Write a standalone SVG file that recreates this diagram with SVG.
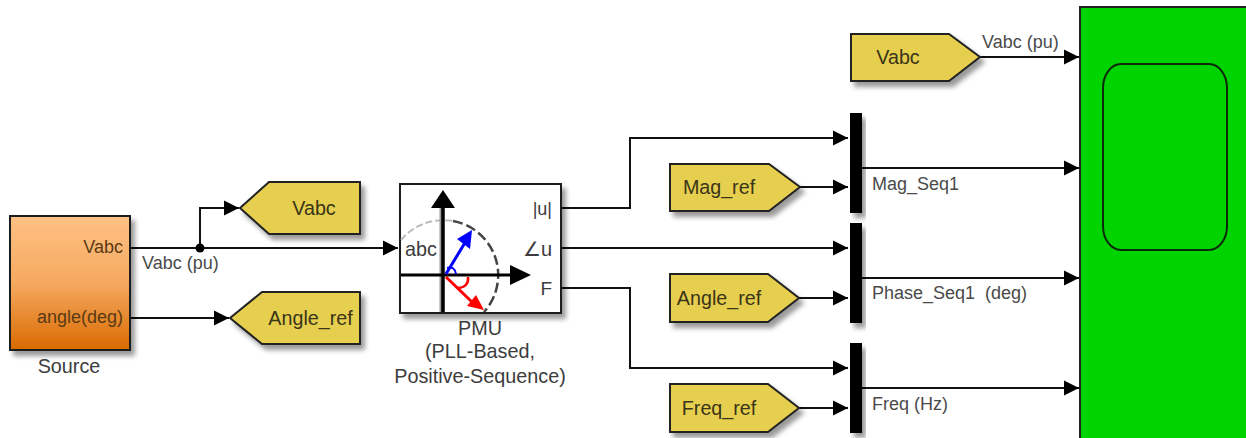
<svg xmlns="http://www.w3.org/2000/svg" width="1246" height="438" viewBox="0 0 1246 438">
<style>
text{font-family:"Liberation Sans",Arial,sans-serif;font-size:19.800px;fill:#3c3c3c}
.sm{font-size:18px;fill:#4a4a4a}
.port{font-size:18px;fill:#3a3a3a}
.oport{font-size:18px;fill:#5a3a14}
.tagt{font-size:19.700px;fill:#3a3418}
.blk{stroke:#1a1a1a;stroke-width:2}
.tag{fill:#e6cf50;stroke:#222;stroke-width:2;stroke-linejoin:miter}
.wire{fill:none;stroke:#111;stroke-width:2}
.bar{fill:#000}
.mid{text-anchor:middle}
.end{text-anchor:end}
</style>
<defs>
<linearGradient id="src" x1="0" y1="0" x2="0" y2="1">
<stop offset="0" stop-color="#ffc183"/>
<stop offset="0.5" stop-color="#f5a960"/>
<stop offset="1" stop-color="#d96a00"/>
</linearGradient>
<filter id="sh" x="-20%" y="-20%" width="150%" height="150%">
<feGaussianBlur stdDeviation="2.5" in="SourceAlpha"/>
<feOffset dx="4" dy="5"/>
<feComponentTransfer><feFuncA type="linear" slope="0.4"/></feComponentTransfer>
<feMerge><feMergeNode/><feMergeNode in="SourceGraphic"/></feMerge>
</filter>
<marker id="arr" markerUnits="userSpaceOnUse" markerWidth="16" markerHeight="16" refX="15" refY="8" orient="auto">
<path d="M0,0.5 L15,8 L0,15.5 Z" fill="#000"/>
</marker>
</defs>

<g id="connectors">
<path class="wire" d="M130,248 H398" marker-end="url(#arr)"/>
<path class="wire" d="M200,248 V208 H239" marker-end="url(#arr)"/>
<circle cx="200" cy="248" r="4.500" fill="#000"/>
<path class="wire" d="M130,318 H229" marker-end="url(#arr)"/>
<path class="wire" d="M561,208 H630 V138 H848" marker-end="url(#arr)"/>
<path class="wire" d="M561,248 H848" marker-end="url(#arr)"/>
<path class="wire" d="M561,288 H630 V368 H848" marker-end="url(#arr)"/>
<path class="wire" d="M800,187 H848" marker-end="url(#arr)"/>
<path class="wire" d="M799,298 H848" marker-end="url(#arr)"/>
<path class="wire" d="M799,408 H848" marker-end="url(#arr)"/>
<path class="wire" d="M980,57 H1079" marker-end="url(#arr)"/>
<path class="wire" d="M861,168 H1079" marker-end="url(#arr)"/>
<path class="wire" d="M861,278 H1079" marker-end="url(#arr)"/>
<path class="wire" d="M861,388 H1079" marker-end="url(#arr)"/>
<text class="sm" x="142" y="269">Vabc (pu)</text>
<text class="sm" x="982" y="48">Vabc (pu)</text>
<text class="sm" x="872" y="190">Mag_Seq1</text>
<text class="sm" x="872" y="299" xml:space="preserve" style="white-space:pre">Phase_Seq1  (deg)</text>
<text class="sm" x="872" y="410">Freq (Hz)</text>
</g>

<g id="source">
<rect class="blk" x="10" y="216" width="120" height="134" fill="url(#src)" filter="url(#sh)"/>
<text class="end oport" x="123" y="253">Vabc</text>
<text class="end oport" x="123" y="323">angle(deg)</text>
<text class="mid" x="69" y="373">Source</text>
</g>

<g id="goto-vabc">
<polygon class="tag" points="240,208 269,182 360,182 360,234 269,234" filter="url(#sh)"/>
<text class="mid tagt" x="314" y="215">Vabc</text>
</g>
<g id="goto-angle">
<polygon class="tag" points="230,318 262,292 360,292 360,344 262,344" filter="url(#sh)"/>
<text class="mid tagt" x="310.500" y="325">Angle_ref</text>
</g>

<g id="pmu">
<rect class="blk" x="400" y="184" width="161" height="129" fill="#fff" filter="url(#sh)"/>
<path d="M401,240 A55,55 0 0 1 453,221" fill="none" stroke="#bbb" stroke-width="2" stroke-dasharray="7,3"/>
<path d="M453,221 A55,55 0 0 1 484,312" fill="none" stroke="#444" stroke-width="2.500" stroke-dasharray="10,4"/>
<path d="M441,312 V206" stroke="#999" stroke-width="3"/>
<path d="M443,312 V206" stroke="#000" stroke-width="3.500"/>
<polygon points="443,190 455,208 431,208" fill="#000"/>
<path d="M401,275 H512" stroke="#000" stroke-width="3"/>
<polygon points="531,275 510,265 510,285" fill="#000"/>
<path d="M446,274 L466,241" stroke="#00f" stroke-width="3"/>
<polygon points="472,230 470,249 457,239" fill="#00f"/>
<path d="M447,268 Q455,266 456,274" fill="none" stroke="#00f" stroke-width="2"/>
<path d="M446,277 L472,302" stroke="#f00" stroke-width="3"/>
<polygon points="484,310 467,306 476,295" fill="#f00"/>
<path d="M468,277 Q469,287 458,288" fill="none" stroke="#f00" stroke-width="2.500"/>
<text x="405" y="256">abc</text>
<text class="end port" x="552" y="215">|u|</text>
<text class="end" x="552" y="256" style="font-size:20px">∠u</text>
<text class="end" x="552" y="295" style="font-size:19px">F</text>
<text class="mid" x="480" y="335">PMU</text>
<text class="mid" x="480" y="358">(PLL-Based,</text>
<text class="mid" x="480" y="383">Positive-Sequence)</text>
</g>

<g id="from-mag">
<polygon class="tag" points="670,164 769,164 800,187 769,211 670,211" filter="url(#sh)"/>
<text class="mid tagt" x="719" y="194">Mag_ref</text>
</g>
<g id="from-angle">
<polygon class="tag" points="670,274 768,274 799,298 768,322 670,322" filter="url(#sh)"/>
<text class="mid tagt" x="719" y="305">Angle_ref</text>
</g>
<g id="from-freq">
<polygon class="tag" points="670,384 768,384 799,408 768,432 670,432" filter="url(#sh)"/>
<text class="mid tagt" x="719" y="415">Freq_ref</text>
</g>
<g id="from-vabc">
<polygon class="tag" points="851,34 949,34 980,57 949,81 851,81" filter="url(#sh)"/>
<text class="mid tagt" x="898" y="64">Vabc</text>
</g>

<g id="mux1"><rect class="bar" x="850" y="113" width="12" height="100" filter="url(#sh)"/></g>
<g id="mux2"><rect class="bar" x="850" y="223" width="12" height="100" filter="url(#sh)"/></g>
<g id="mux3"><rect class="bar" x="850" y="343" width="12" height="90" filter="url(#sh)"/></g>

<g id="scope">
<rect x="1080" y="7" width="170" height="440" fill="#00d400" stroke="#222" stroke-width="2"/>
<rect x="1103" y="64" width="124" height="186" rx="18" ry="24" fill="none" stroke="#0a2a0a" stroke-width="2"/>
</g>
</svg>
